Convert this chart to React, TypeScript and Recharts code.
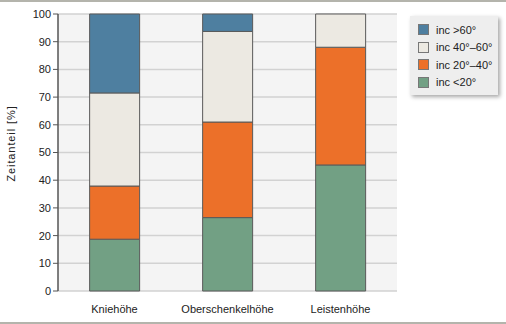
import { Bar, BarChart, CartesianGrid, XAxis, YAxis } from 'recharts';

const categories = ['Kniehöhe', 'Oberschenkelhöhe', 'Leistenhöhe'];
const incUnder20 = [18.7, 26.5, 45.5];
const inc20to40 = [19.2, 34.5, 42.5];
const inc40to60 = [33.6, 32.7, 12.0];
const incOver60 = [28.5, 6.3, 0];
const yTicks = [0, 10, 20, 30, 40, 50, 60, 70, 80, 90, 100];
const boundaryTicks = [0, 1, 2, 3];

const series = [
  { key: 'lt20', name: 'inc <20°', color: '#72a084', values: incUnder20 },
  { key: 'b2040', name: 'inc 20°–40°', color: '#ec7029', values: inc20to40 },
  { key: 'b4060', name: 'inc 40°–60°', color: '#ece9e2', values: inc40to60 },
  { key: 'gt60', name: 'inc >60°', color: '#4e7fa0', values: incOver60 },
];

const data = categories.map((name, i) => {
  const row: Record<string, string | number> = { name };
  series.forEach((s) => (row[s.key] = s.values[i]));
  return row;
});

const font = '"Liberation Sans", Arial, sans-serif';

// legend sits outside the chart so it doesn't eat into the plot width
function LegendBox() {
  return (
    <div
      style={{
        position: 'absolute',
        left: 410,
        top: 14,
        width: 88,
        boxSizing: 'border-box',
        background: '#eeeeee',
        boxShadow: '2px 2px 4px rgba(0,0,0,0.35)',
        padding: '5px 0 4px 8px',
        fontFamily: font,
        fontSize: 11,
        color: '#222',
      }}
    >
      {[...series].reverse().map((s) => (
        <div key={s.key} style={{ display: 'flex', alignItems: 'center', height: 17.5 }}>
          <span
            style={{
              display: 'inline-block',
              width: 9,
              height: 9,
              background: s.color,
              border: '1px solid #777',
              marginRight: 7,
            }}
          />
          {s.name}
        </div>
      ))}
    </div>
  );
}

function YTitle(props: any) {
  const vb = props.viewBox || {};
  const cx = 11;
  const cy = vb.y + vb.height / 2 - 9;
  return (
    <text
      x={cx}
      y={cy}
      transform={`rotate(-90, ${cx}, ${cy})`}
      textAnchor="middle"
      dominantBaseline="central"
      fontSize={11}
      letterSpacing={0.9}
      fill="#222"
      fontFamily={font}
    >
      Zeitanteil [%]
    </text>
  );
}

export default function App() {
  return (
    <div
      style={{
        position: 'absolute',
        left: 0,
        top: 0,
        width: 506,
        height: 324,
        boxSizing: 'border-box',
        borderTop: '2px solid #b4b4ac',
        borderBottom: '2px solid #b4b4ac',
        background: '#fff',
        fontFamily: font,
      }}
    >
      <div style={{ position: 'absolute', left: 0, top: -2 }}>
        <BarChart
          width={506}
          height={324}
          data={data}
          margin={{ top: 14, right: 109, left: 0, bottom: 0 }}
          barCategoryGap="28%"
        >
          <CartesianGrid
            yAxisId="y"
            xAxisId="cat"
            vertical={false}
            fill="#f4f4f4"
            stroke="#d2d2d2"
            strokeWidth={1.5}
          />
          <XAxis
            xAxisId="cat"
            dataKey="name"
            height={33}
            tickLine={false}
            axisLine={false}
            tick={{ fontSize: 11, fill: '#222', fontFamily: font, dy: 6 }}
            interval={0}
          />
          <XAxis
            xAxisId="bounds"
            type="number"
            domain={[0, 3]}
            ticks={boundaryTicks}
            height={0}
            tick={false}
            tickSize={5}
            tickLine={{ stroke: '#555' }}
            axisLine={{ stroke: '#555', strokeWidth: 1.5 }}
          />
          <YAxis
            yAxisId="y"
            domain={[0, 100]}
            ticks={yTicks}
            width={58}
            tickSize={5}
            interval={0}
            tick={{ fontSize: 11, fill: '#222', fontFamily: font }}
            tickLine={{ stroke: '#555' }}
            axisLine={{ stroke: '#555', strokeWidth: 1.5 }}
            label={<YTitle />}
          />
          <YAxis
            yAxisId="r"
            orientation="right"
            domain={[0, 100]}
            width={0}
            tick={false}
            tickLine={false}
            axisLine={{ stroke: '#d2d2d2', strokeWidth: 1.5 }}
          />
          {series.map((s) => (
            <Bar
              key={s.key}
              xAxisId="cat"
              yAxisId="y"
              dataKey={s.key}
              name={s.name}
              stackId="a"
              fill={s.color}
              stroke="#5a5a5a"
              strokeWidth={1}
              isAnimationActive={false}
            />
          ))}
        </BarChart>
      </div>
      <LegendBox />
    </div>
  );
}
